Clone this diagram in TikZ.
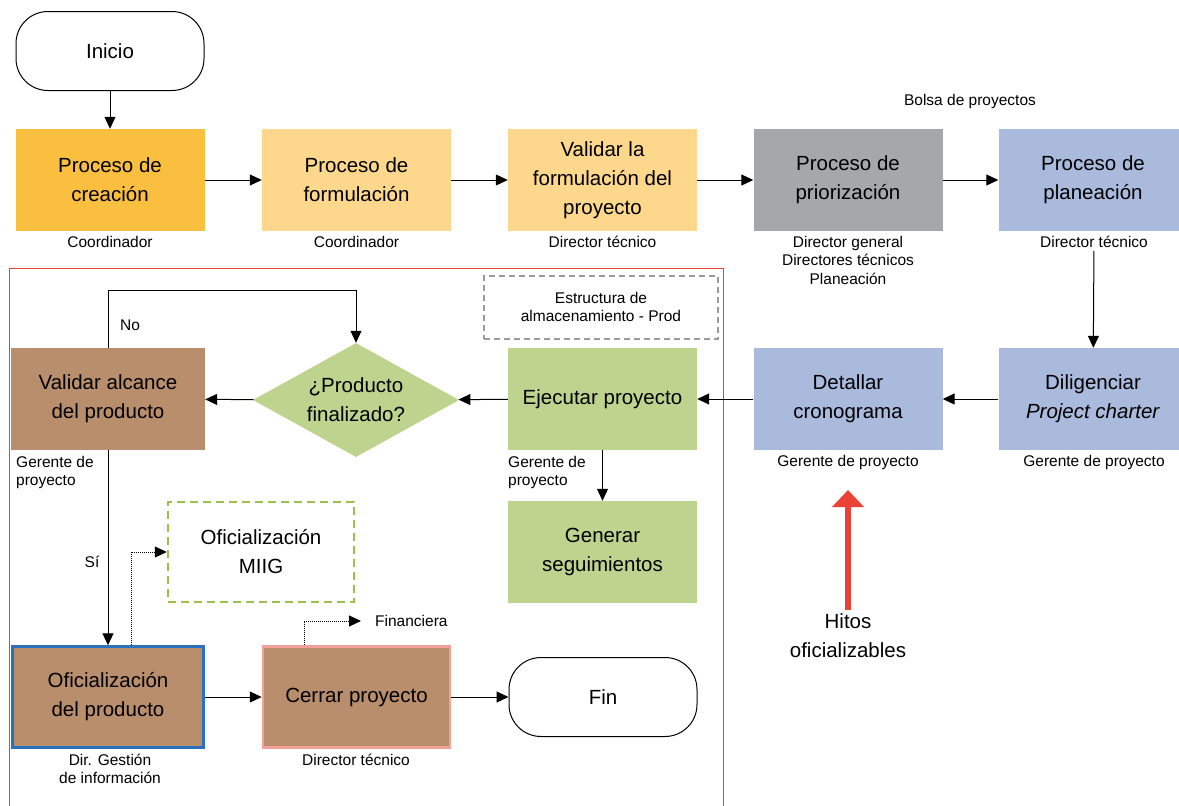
\documentclass[tikz,border=0pt]{standalone}
\usepackage{fontspec}
\setmainfont{Liberation Sans}
\usetikzlibrary{arrows.meta,shapes.geometric}

\definecolor{amarillo}{HTML}{FBBF40}
\definecolor{durazno}{HTML}{FDD78C}
\definecolor{gris}{HTML}{A5A8A8}
\definecolor{azul}{HTML}{A9BADD}
\definecolor{verde}{HTML}{BED38D}
\definecolor{cafe}{HTML}{B98E6C}
\definecolor{bordeazul}{HTML}{2A72BE}
\definecolor{borderosa}{HTML}{F3A09B}
\definecolor{rojo}{HTML}{EA4335}
\definecolor{verdeguion}{HTML}{9CC04A}
\definecolor{grisguion}{HTML}{9A9A9A}

\newcommand{\grande}{\fontsize{20.5}{29}\selectfont}
\newcommand{\chico}{\fontsize{15.5}{18.5}\selectfont}

\tikzset{
    caja/.style={rectangle, inner sep=0pt, minimum width=189pt, minimum height=102pt, align=center, font=\grande},
    terminal/.style={rectangle, draw, line width=1pt, rounded corners=32pt, minimum width=188pt, minimum height=79pt, font=\grande},
    rol/.style={inner sep=0pt, align=center, font=\chico},
    flecha/.style={line width=1pt, -{Triangle[length=12pt,width=11pt]}},
    punteada/.style={flecha, dash pattern=on 1pt off 1pt}
}

\begin{document}
\begin{tikzpicture}[x=1pt, y=-1pt]
    \useasboundingbox (0,0) rectangle (1179,806);

    % marco rojo
    \draw[rojo, line width=1pt] (9,268) rectangle (723,830);

    \node[terminal] (inicio) at (110,51) {Inicio};

    % fila superior
    \foreach \nombre/\cx/\relleno/\texto in {creacion/110/amarillo/{Proceso de\\creación},
            formulacion/356.5/durazno/{Proceso de\\formulación},
            validar/602.5/durazno/{Validar la\\formulación del\\proyecto},
            priorizacion/848/gris/{Proceso de\\priorización},
            planeacion/1093/azul/{Proceso de\\planeación}} {
        \node[caja, fill=\relleno] (\nombre) at (\cx,180) {\texto};
    }
    \foreach \nombre/\cx/\texto in {creacion/110/Coordinador,
            formulacion/356.5/Coordinador,
            validar/602.5/Director técnico,
            priorizacion/848/{Director general\\Directores técnicos\\Planeación},
            planeacion/1094/Director técnico} {
        \node[rol, anchor=north] (rol\nombre) at (\cx,236) {\texto};
    }
    \node[rol] (bolsa) at (970,101) {Bolsa de proyectos};

    \draw[flecha] (inicio) -- (creacion);
    \foreach \a/\b in {creacion/formulacion, formulacion/validar, validar/priorizacion, priorizacion/planeacion} {
        \draw[flecha] (\a) -- (\b);
    }

    % fila del medio
    \node[caja, fill=azul] (diligenciar) at (1093,399) {Diligenciar\\\textit{Project charter}};
    \node[caja, fill=azul] (cronograma) at (848,399) {Detallar\\cronograma};
    \node[caja, fill=verde] (ejecutar) at (602.5,399) {Ejecutar proyecto};
    \node[diamond, fill=verde, aspect=1.8, inner sep=0pt, minimum width=206pt, minimum height=114pt,
        align=center, font=\grande] (producto) at (356,400) {¿Producto\\finalizado?};
    \node[caja, fill=cafe, minimum width=194pt] (alcance) at (108,399) {Validar alcance\\del producto};
    \node[rectangle, draw=grisguion, line width=2pt, dash pattern=on 6pt off 4pt, minimum width=234pt,
        minimum height=63pt, align=center, font=\chico] (estructura) at (601,307) {Estructura de\\almacenamiento - Prod};

    \node[rol] (roldiligenciar) at (1094,462) {Gerente de proyecto};
    \node[rol] (rolcronograma) at (848,462) {Gerente de proyecto};
    \node[rol, align=left, anchor=north west] (rolejecutar) at (508,456) {Gerente de\\proyecto};
    \node[rol, align=left, anchor=north west] (rolalcance) at (16,456) {Gerente de\\proyecto};

    \draw[flecha, shorten <=3pt] (rolplaneacion) -- (diligenciar);
    \draw[flecha] (diligenciar) -- (cronograma);
    \draw[flecha] (cronograma) -- (ejecutar);
    \draw[flecha] (ejecutar) -- (producto);
    \draw[flecha] (producto) -- (alcance);
    \draw[flecha] (alcance.north) -- ++(0,-57) -| (producto.north);
    \node[rol] (no) at (130,325) {No};

    % fila inferior
    \node[caja, fill=verde] (seguimientos) at (602.5,552) {Generar\\seguimientos};
    \node[caja, draw=verdeguion, line width=2.5pt, dash pattern=on 8pt off 5pt, minimum width=186pt,
        minimum height=100pt] (miig) at (261,552) {Oficialización\\MIIG};
    \node[caja, fill=cafe, draw=bordeazul, line width=2.5pt, minimum width=191pt, minimum height=101pt]
        (oficializacion) at (108,697) {Oficialización\\del producto};
    \node[caja, fill=cafe, draw=borderosa, line width=2.5pt, minimum width=187pt, minimum height=101pt]
        (cerrar) at (356.5,697) {Cerrar proyecto};
    \node[terminal] (fin) at (603,697) {Fin};

    \node[rol] (roloficializacion) at (110,769) {Dir. Gestión\\de información};
    \node[rol] (rolcerrar) at (356,760) {Director técnico};
    \node[rol, anchor=west, inner xsep=14pt] (financiera) at (361,621) {Financiera};
    \node[rol] (si) at (92,562) {Sí};

    \draw[flecha] (ejecutar) -- (seguimientos);
    \draw[flecha] (alcance) -- (oficializacion);
    \draw[punteada] ([xshift=23pt]oficializacion.north) |- (miig.west);
    \draw[punteada] ([xshift=-52.5pt]cerrar.north) |- (financiera.west);
    \draw[flecha] (oficializacion) -- (cerrar);
    \draw[flecha] (cerrar) -- (fin);

    % hitos
    \node[align=center, inner sep=0pt, font=\grande] (hitos) at (848,636) {Hitos\\oficializables};
    \coordinate (meta) at (848,490);
    \draw[rojo, line width=5.5pt, -{Triangle[length=17pt,width=31pt]}] ([yshift=4pt]hitos.north) -- (meta);
\end{tikzpicture}
\end{document}
